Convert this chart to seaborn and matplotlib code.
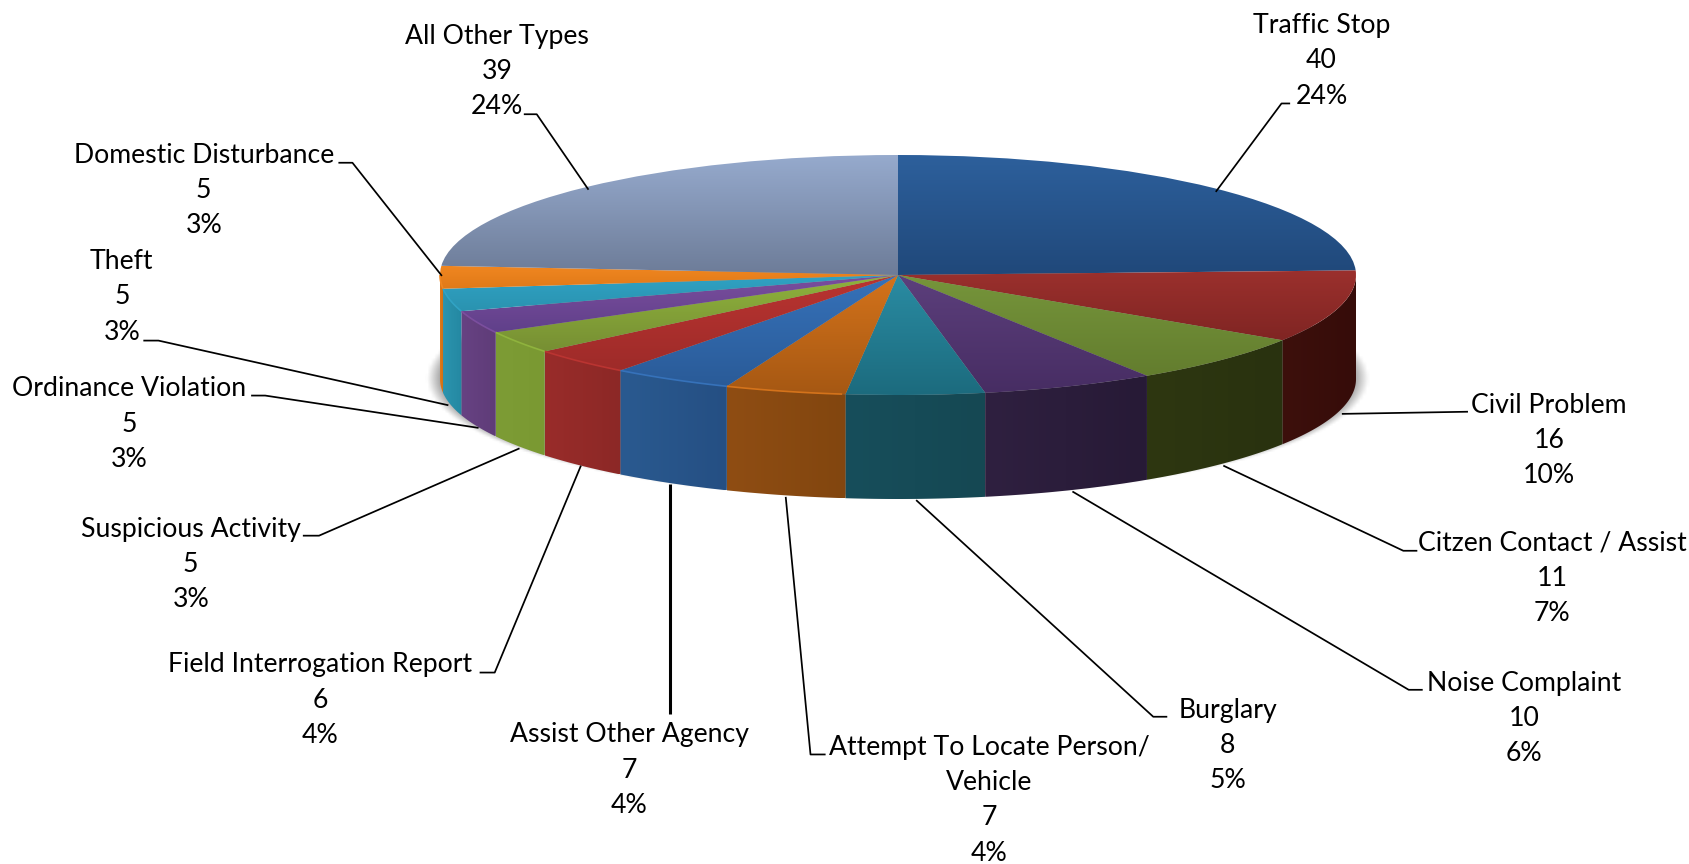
import numpy as np
import matplotlib
matplotlib.use("Agg")
import matplotlib.pyplot as plt
from matplotlib.patches import Polygon
import seaborn as sns

# chart values
LABELS = ["Traffic Stop", "Civil Problem", "Citzen Contact / Assist", "Noise Complaint",
          "Burglary", "Attempt To Locate Person/\nVehicle", "Assist Other Agency",
          "Field Interrogation Report", "Suspicious Activity", "Ordinance Violation",
          "Theft", "Domestic Disturbance", "All Other Types"]
COUNTS = [40, 16, 11, 10, 8, 7, 7, 6, 5, 5, 5, 5, 39]
PERCENTS = [24, 10, 7, 6, 5, 4, 4, 4, 3, 3, 3, 3, 24]

# colours: top face (back, front), wall (left, right)
TOP_BACK = ["#2d609c", "#9b302d", "#76953b", "#5c3f7c", "#2a8ca3", "#d4731b", "#3672ba",
            "#ba3431", "#8fb33d", "#7b4e9e", "#30a2c4", "#f08620", "#96aacd"]
TOP_FRONT = ["#20487a", "#802523", "#637d2e", "#472d63", "#1c6b7e", "#a65813", "#2a5b98",
             "#9e2b29", "#778f33", "#60408a", "#2a93b0", "#e07a18", "#6d7c98"]
WALL_LEFT = ["#20487a", "#3d100c", "#2e3711", "#2f2040", "#174e5b", "#8f4d13", "#2a5a90",
             "#992c2a", "#7d9c35", "#674283", "#2b94ae", "#e07a18", "#6d7c98"]
WALL_RIGHT = ["#20487a", "#360c09", "#29320f", "#271a36", "#154853", "#82460f", "#254f83",
              "#8c2826", "#7a9932", "#5f3c78", "#2488a2", "#c96c14", "#6d7c98"]

# layout in picture pixels
W, H = 1690, 864
CX, CY, RX, RY = 898, 275, 458, 120
DEPTH = 104
SCALE = 1690 / 1568
LABEL_XY = [(1226, 56.5), (1437, 408.5), (1440, 536.5), (1414, 666.5), (1139, 691.5), (918, 742.5),
            (584, 714.5), (297, 649.5), (177, 523.5), (120, 393.5), (113, 275.5), (189, 176.5), (461, 66.5)]
LEADERS = [
    [(1197, 96), (1189, 96), (1128, 178)],
    [(1362, 382), (1245, 384)],
    [(1315, 511), (1302, 511), (1135, 432)],
    [(1320, 640), (1307, 640), (995, 456)],
    [(1083, 665), (1070, 665), (850, 464)],
    [(766, 700), (752, 700), (729, 461)],
    [(622, 662), (622, 449)],
    [(445, 624), (459, 624), (539, 432)],
    [(281, 497), (296, 497), (482, 416)],
    [(233, 367), (246, 367), (444, 397)],
    [(133, 316), (147, 316), (416, 376)],
    [(314, 151), (327, 151), (410, 256)],
    [(486, 106), (498, 106), (546, 176)],
]


def to_data(px, py):
    return (px - CX) / RX, (CY - py) / RY


def gradient_fill(ax, patch, c1, c2, horizontal=False, zorder=2):
    """Paint a patch with a two colour gradient clipped to its outline"""
    box = patch.get_path().transformed(patch.get_patch_transform()).get_extents()
    ramp = np.linspace(0, 1, 128)
    ramp = ramp[None, :] if horizontal else ramp[:, None]
    cmap = sns.blend_palette([c1, c2], as_cmap=True)
    img = ax.imshow(ramp, cmap=cmap, vmin=0, vmax=1, origin="upper", aspect="auto",
                    extent=(box.x0, box.x1, box.y0, box.y1), zorder=zorder,
                    interpolation="bilinear")
    img.set_clip_path(patch)


sns.set_theme(style="white")
plt.rcParams["font.family"] = ["Lato", "DejaVu Sans"]

fig = plt.figure(figsize=(W / 100, H / 100), dpi=100, facecolor="white")
ax = fig.add_axes([0, 0, 1, 1])

wedges, _ = ax.pie(COUNTS, startangle=90, counterclock=False, radius=1, center=(0, 0),
                   wedgeprops={"facecolor": "none", "edgecolor": "none"})

# soft shadow under the disc
xs = np.linspace(-CX / RX, (W - CX) / RX, 500)
ys = np.linspace(CY / RY, (CY - H) / RY, 400)
gx, gy = np.meshgrid(xs, ys)
dist = np.sqrt((gx / 1.018) ** 2 + ((gy + 0.86) / 0.99) ** 2)
alpha = np.clip((1.012 - dist) / 0.03, 0, 1) * 0.55
shadow = np.zeros(gx.shape + (4,))
shadow[..., :3] = 0.35
shadow[..., 3] = alpha
ax.imshow(shadow, extent=(xs[0], xs[-1], ys[-1], ys[0]), aspect="auto", zorder=0,
          interpolation="bilinear")

# side wall of each slice, only the part facing the viewer
drop = DEPTH / RY
for w, c1, c2 in zip(wedges, WALL_LEFT, WALL_RIGHT):
    lo, hi = max(w.theta1, -180), min(w.theta2, 0)
    if hi <= lo:
        continue
    t = np.radians(np.linspace(lo, hi, 60))
    top = np.column_stack([np.cos(t), np.sin(t)])
    pts = np.vstack([top, (top - [0, drop])[::-1]])
    wall = Polygon(pts, closed=True, facecolor="none", edgecolor="none", zorder=1)
    ax.add_patch(wall)
    gradient_fill(ax, wall, c1, c2, horizontal=True, zorder=1)

# top faces
for w, c1, c2 in zip(wedges, TOP_BACK, TOP_FRONT):
    w.set_zorder(2)
    gradient_fill(ax, w, c1, c2, zorder=2)

# bright rim where the top meets the wall, left of the burglary slice only
for w, c in zip(wedges, TOP_BACK):
    lo, hi = max(w.theta1, -180), min(w.theta2, -97)
    if hi > lo:
        t = np.radians(np.linspace(lo, hi, 40))
        ax.plot(np.cos(t), np.sin(t), color=c, lw=1.2, zorder=3, solid_capstyle="butt")

# leader lines
for i, line in enumerate(LEADERS):
    pts = [to_data(x * SCALE, y * SCALE) for x, y in line]
    ax.plot([p[0] for p in pts], [p[1] for p in pts], color="black",
            lw=2.2 if i == 6 else 1.25, zorder=4, solid_capstyle="butt")

# labels
for name, n, pct, (x, y) in zip(LABELS, COUNTS, PERCENTS, LABEL_XY):
    px, py = to_data(x * SCALE, y * SCALE)
    ax.text(px, py, f"{name}\n{n}\n{pct}%", ha="center", va="center", fontsize=19.2,
            color="black", linespacing=1.51, zorder=5)

ax.set_xlim(-CX / RX, (W - CX) / RX)
ax.set_ylim((CY - H) / RY, CY / RY)
ax.set_aspect("auto")
ax.axis("off")

fig.savefig("out.png", dpi=100, facecolor="white")
